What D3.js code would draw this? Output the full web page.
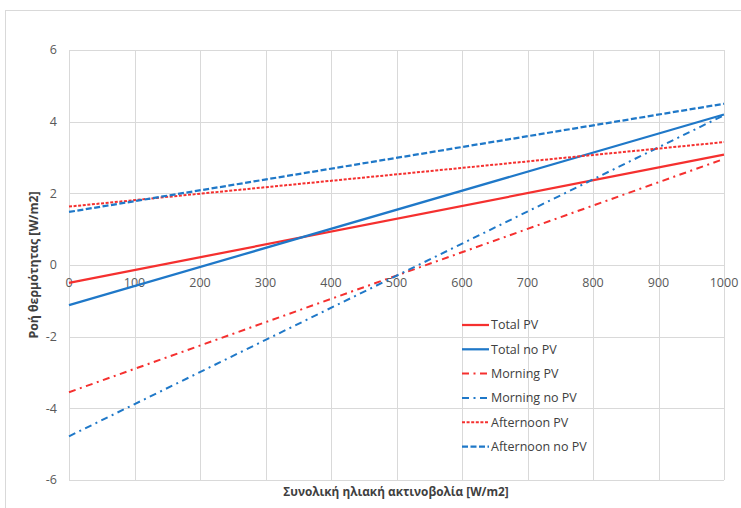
<!DOCTYPE html>
<html>
<head>
<meta charset="utf-8">
<script src="https://cdn.jsdelivr.net/npm/d3@7"></script>
<style>
  html, body { margin: 0; padding: 0; background: #fff; }
  svg { display: block; font-family: "Open Sans", "Noto Sans", sans-serif; }
</style>
</head>
<body>
<svg id="chart" width="741" height="508"></svg>
<script>
// radiation levels (x) and heat flux per case (y)
const radiation = [0, 1000];
const totalPV = [-0.5, 3.08];
const totalNoPV = [-1.12, 4.2];
const morningPV = [-3.55, 2.96];
const morningNoPV = [-4.78, 4.18];
const afternoonPV = [1.63, 3.43];
const afternoonNoPV = [1.48, 4.5];

const xTicks = [0, 100, 200, 300, 400, 500, 600, 700, 800, 900, 1000];
const yTicks = [-6, -4, -2, 0, 2, 4, 6];

const red = '#f5302f';
const blue = '#1f78c8';

const seriesList = [
  { name: 'Total PV', values: totalPV, color: red, dash: null, width: 2.25 },
  { name: 'Total no PV', values: totalNoPV, color: blue, dash: null, width: 2.25 },
  { name: 'Morning PV', values: morningPV, color: red, dash: '7,4.5,2,4.5', width: 2 },
  { name: 'Morning no PV', values: morningNoPV, color: blue, dash: '7,4.5,2,4.5', width: 2 },
  { name: 'Afternoon PV', values: afternoonPV, color: red, dash: '3,1.6', width: 2 },
  { name: 'Afternoon no PV', values: afternoonNoPV, color: blue, dash: '6,2.5', width: 2.25 }
];

const svg = d3.select('#chart');

// outer chart frame
svg.append('rect')
  .attr('x', 5.5).attr('y', 10.5)
  .attr('width', 760).attr('height', 520)
  .attr('fill', 'none').attr('stroke', '#d9d9d9');

const x = d3.scaleLinear().domain([0, 1000]).range([69, 724]);
const y = d3.scaleLinear().domain([-6, 6]).range([480, 50]);

// gridlines
const grid = svg.append('g').attr('class', 'grid');
grid.selectAll('line.h').data(yTicks).enter().append('line')
  .attr('class', 'h')
  .attr('x1', x(0)).attr('x2', x(1000))
  .attr('y1', d => Math.round(y(d)) + 0.5).attr('y2', d => Math.round(y(d)) + 0.5)
  .attr('stroke', '#d9d9d9').attr('stroke-width', 1);
grid.selectAll('line.v').data(xTicks).enter().append('line')
  .attr('class', 'v')
  .attr('x1', d => Math.round(x(d)) + 0.5).attr('x2', d => Math.round(x(d)) + 0.5)
  .attr('y1', y(6)).attr('y2', y(-6))
  .attr('stroke', '#d9d9d9').attr('stroke-width', 1);

// y tick labels
svg.append('g').selectAll('text').data(yTicks).enter().append('text')
  .attr('x', 57).attr('y', d => y(d))
  .attr('dy', '0.35em')
  .attr('text-anchor', 'end')
  .attr('font-size', 12.5).attr('fill', '#595959')
  .text(d => d);

// x tick labels (axis crosses at 0)
svg.append('g').selectAll('text').data(xTicks).enter().append('text')
  .attr('x', d => x(d)).attr('y', y(0) + 18)
  .attr('dy', '0.35em')
  .attr('text-anchor', 'middle')
  .attr('font-size', 12.5).attr('fill', '#595959')
  .text(d => d);

// lines
const line = d3.line()
  .x((d, i) => x(radiation[i]))
  .y(d => y(d));

svg.append('g').selectAll('path').data(seriesList).enter().append('path')
  .attr('d', d => line(d.values))
  .attr('fill', 'none')
  .attr('stroke', d => d.color)
  .attr('stroke-width', d => d.width)
  .attr('stroke-dasharray', d => d.dash);

// legend
const legend = svg.append('g').attr('class', 'legend');
const rows = legend.selectAll('g').data(seriesList).enter().append('g')
  .attr('transform', (d, i) => `translate(462, ${325 + i * 24.3})`);
rows.append('line')
  .attr('x1', 0).attr('x2', 27)
  .attr('y1', 0).attr('y2', 0)
  .attr('stroke', d => d.color)
  .attr('stroke-width', d => d.width)
  .attr('stroke-dasharray', d => d.dash);
rows.append('text')
  .attr('x', 29).attr('y', 0).attr('dy', '0.35em')
  .attr('font-size', 12.5).attr('fill', '#404040')
  .text(d => d.name);

// axis titles
svg.append('text')
  .attr('x', 396).attr('y', 492).attr('dy', '0.35em')
  .attr('text-anchor', 'middle')
  .attr('font-size', 11.8).attr('font-weight', 'bold').attr('fill', '#404040')
  .text('Συνολική ηλιακή ακτινοβολία [W/m2]');

svg.append('text')
  .attr('transform', 'translate(34, 265) rotate(-90)')
  .attr('dy', '0.35em')
  .attr('text-anchor', 'middle')
  .attr('font-size', 12.3).attr('font-weight', 'bold').attr('fill', '#404040')
  .text('Ροή θερμότητας [W/m2]');
</script>
</body>
</html>
